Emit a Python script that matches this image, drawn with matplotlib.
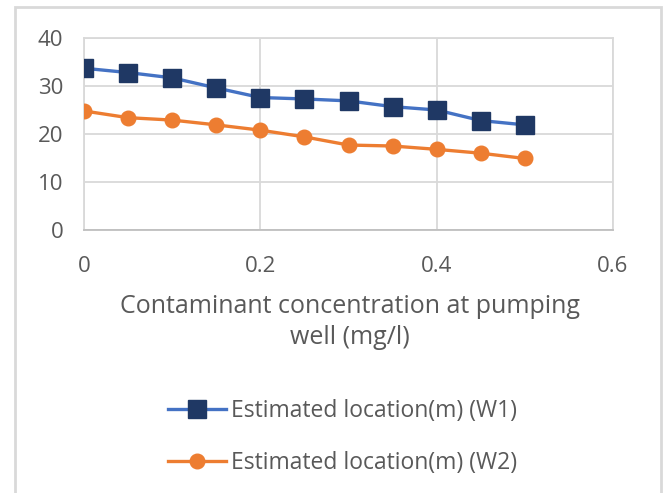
import matplotlib
matplotlib.use("Agg")
import matplotlib.pyplot as plt
from matplotlib.patches import Rectangle

conc = [0, 0.05, 0.1, 0.15, 0.2, 0.25, 0.3, 0.35, 0.4, 0.45, 0.5]
w1 = [33.7, 32.8, 31.7, 29.6, 27.6, 27.3, 26.9, 25.7, 25.0, 22.8, 21.9]
w2 = [24.8, 23.4, 22.9, 21.9, 20.8, 19.4, 17.7, 17.5, 16.8, 16.0, 14.9]
xticks = [0, 0.2, 0.4, 0.6]
yticks = [0, 10, 20, 30, 40]
xlabel = "Contaminant concentration at pumping\nwell (mg/l)"
labels = ["Estimated location(m) (W1)", "Estimated location(m) (W2)"]

plt.rcParams['font.family'] = ['Open Sans', 'DejaVu Sans']
W, H = 665, 493
fig = plt.figure(figsize=(W/100, H/100), dpi=100)
fig.patch.set_facecolor('white')
fig.patches.append(Rectangle((15/W, -0.1), (661-15)/W, (H-7)/H + 0.1, transform=fig.transFigure,
                             fill=False, edgecolor='#d9d9d9', linewidth=2))

ax = fig.add_axes([84/W, 1-230/H, (613-84)/W, (230-38)/H])
grid_c = '#d9d9d9'
ax.plot(conc, w1, color='#4472C4', lw=2.4, marker='s', ms=13, mfc='#1F3864', mec='#1F3864',
        label=labels[0], zorder=3)
ax.plot(conc, w2, color='#ED7D31', lw=2.4, marker='o', ms=10.5, mfc='#ED7D31', mec='#ED7D31',
        label=labels[1], zorder=3)
ax.set_xlim(0, 0.6)
ax.set_ylim(0, 40)
ax.set_xticks(xticks)
ax.set_xticklabels(['0', '0.2', '0.4', '0.6'])
ax.set_yticks(yticks)
ax.grid(True, color=grid_c, lw=1.3)
ax.tick_params(length=0, labelsize=16, colors='#595959')
ax.tick_params(axis='x', pad=19)
ax.tick_params(axis='y', pad=15)
for s in ax.spines.values():
    s.set_color(grid_c)
    s.set_linewidth(1.3)
ax.spines['bottom'].set_color('#bfbfbf')
ax.set_axisbelow(True)

fig.text(350/W, 1-322/H, xlabel, ha='center', va='center', fontsize=18,
         color='#595959', linespacing=1.28)

handles, lbls = ax.get_legend_handles_labels()
leg = fig.legend(handles, lbls, loc='center', bbox_to_anchor=(343/W, 1-437/H),
                 frameon=False, fontsize=16.5, labelcolor='#595959', handlelength=2.5,
                 handletextpad=0.25, labelspacing=1.2)

fig.savefig('out.png', dpi=100)
